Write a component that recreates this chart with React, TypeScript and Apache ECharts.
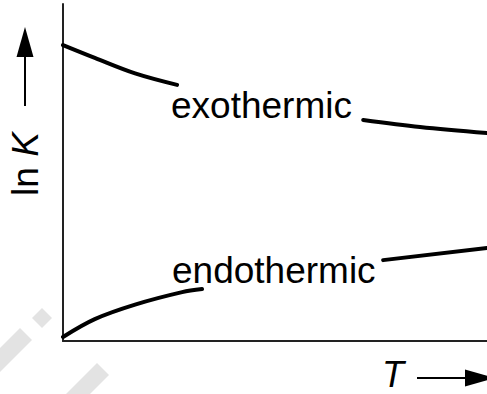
import React, { useEffect, useRef } from "react";
import * as echarts from "echarts";

// Temperature (arbitrary units, 0–100) for each curve segment
const exoLeftT = [0, 7.5, 17.0, 26.9];
const exoLeftLnK = [87.8, 84.0, 79.4, 76.0];
const exoRightT = [70.8, 84.2, 100];
const exoRightLnK = [65.6, 63.5, 61.7];

const endoLeftT = [0, 7.5, 17.0, 28.1, 32.8];
const endoLeftLnK = [1.2, 6.5, 10.8, 14.5, 15.4];
const endoRightT = [75.5, 100];
const endoRightLnK = [24.0, 27.6];

const curveLabels = ["exothermic", "endothermic"];
const xAxisName = "T";
const yAxisName = ["ln ", "K"];

const FONT = "Liberation Sans, Arial, Helvetica, sans-serif";

const pairs = (xs: number[], ys: number[]) => xs.map((x, i) => [x, ys[i]]);

const curve = (name: string, data: number[][]) => ({
  name,
  type: "line",
  data,
  smooth: 0.35,
  showSymbol: false,
  symbol: "none",
  clip: false,
  lineStyle: { color: "#000", width: 4, cap: "round" },
});

export default function App() {
  const ref = useRef<HTMLDivElement>(null);

  useEffect(() => {
    if (!ref.current) return;
    const chart = echarts.init(ref.current, null, { renderer: "svg" });
    const axisLine = { show: true, onZero: false, lineStyle: { color: "#222", width: 2 } };
    chart.setOption({
      animation: false,
      backgroundColor: "#fff",
      grid: { left: 63, right: 0, top: 4, bottom: 53 },
      xAxis: {
        type: "value",
        min: 0,
        max: 100,
        axisLine,
        axisTick: { show: false },
        axisLabel: { show: false },
        splitLine: { show: false },
      },
      yAxis: {
        type: "value",
        min: 0,
        max: 100,
        axisLine,
        axisTick: { show: false },
        axisLabel: { show: false },
        splitLine: { show: false },
      },
      series: [
        curve("exo-a", pairs(exoLeftT, exoLeftLnK)),
        curve("exo-b", pairs(exoRightT, exoRightLnK)),
        curve("endo-a", pairs(endoLeftT, endoLeftLnK)),
        curve("endo-b", pairs(endoRightT, endoRightLnK)),
      ],
      graphic: [
        // faint diagonal watermark strokes, lower left
        {
          type: "line",
          silent: true,
          z: -1,
          shape: { x1: -12, y1: 372, x2: 26, y2: 334 },
          style: { stroke: "#e3e3e3", lineWidth: 17 },
        },
        {
          type: "polygon",
          silent: true,
          z: -1,
          shape: { points: [[42, 308], [52, 318], [42, 328], [32, 318]] },
          style: { fill: "#e3e3e3" },
        },
        {
          type: "line",
          silent: true,
          z: -1,
          shape: { x1: 103, y1: 369, x2: 72, y2: 400 },
          style: { stroke: "#e3e3e3", lineWidth: 17 },
        },
        // curve labels
        {
          type: "text",
          x: 171,
          y: 105,
          style: {
            text: curveLabels[0],
            font: `37px ${FONT}`,
            fill: "#000",
            textAlign: "left",
            textVerticalAlign: "middle",
          },
        },
        {
          type: "text",
          x: 172,
          y: 270,
          style: {
            text: curveLabels[1],
            font: `37px ${FONT}`,
            fill: "#000",
            textAlign: "left",
            textVerticalAlign: "middle",
          },
        },
        // y axis title with arrow
        {
          type: "text",
          x: 25,
          y: 164,
          rotation: Math.PI / 2,
          style: {
            text: `{a|${yAxisName[0]}}{b|${yAxisName[1]}}`,
            textAlign: "center",
            textVerticalAlign: "middle",
            rich: {
              a: { fontSize: 37, fontFamily: FONT, fill: "#000", color: "#000" },
              b: { fontSize: 37, fontFamily: FONT, fontStyle: "italic", fill: "#000", color: "#000" },
            },
          },
        },
        {
          type: "line",
          shape: { x1: 25, y1: 106, x2: 25, y2: 50 },
          style: { stroke: "#000", lineWidth: 2 },
        },
        {
          type: "polygon",
          shape: { points: [[25, 27], [16.5, 57], [33.5, 57]] },
          style: { fill: "#000" },
        },
        // x axis title with arrow
        {
          type: "text",
          x: 393,
          y: 374.5,
          style: {
            text: xAxisName,
            font: `italic 36px ${FONT}`,
            fill: "#000",
            textAlign: "center",
            textVerticalAlign: "middle",
          },
        },
        {
          type: "line",
          shape: { x1: 417, y1: 378, x2: 470, y2: 378 },
          style: { stroke: "#000", lineWidth: 2 },
        },
        {
          type: "polygon",
          shape: { points: [[465, 369.5], [465, 386.5], [495, 378]] },
          style: { fill: "#000" },
        },
      ],
    });
    return () => chart.dispose();
  }, []);

  return (
    <div
      ref={ref}
      style={{ position: "fixed", left: 0, top: 0, width: 487, height: 394, background: "#fff" }}
    />
  );
}
